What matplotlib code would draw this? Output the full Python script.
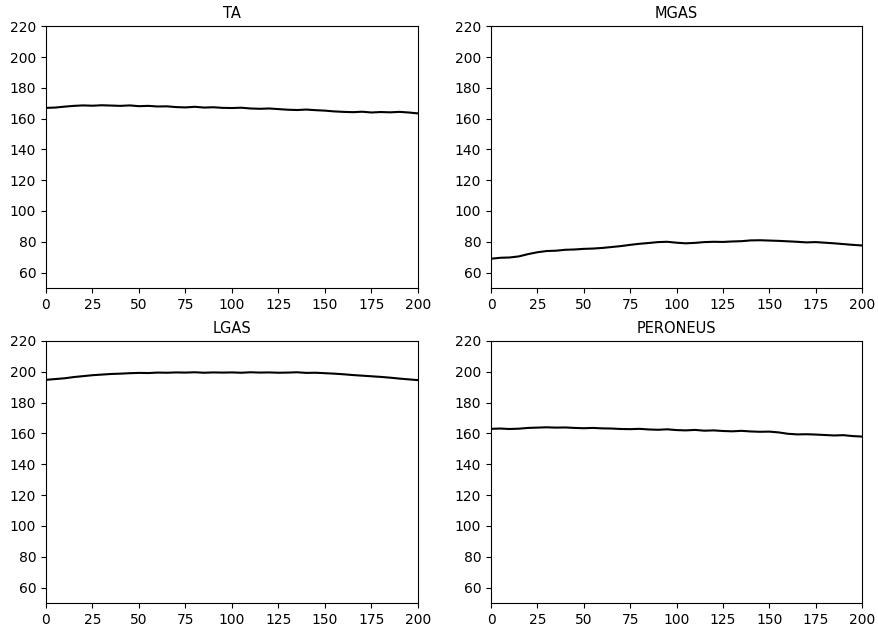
import matplotlib
matplotlib.use("Agg")
import matplotlib.pyplot as plt

# sample index (every 5 samples) and traces
x = list(range(0, 201, 5))

ta = [167.0, 167.2, 167.8, 168.3, 168.6, 168.4, 168.7, 168.5, 168.3, 168.6,
      168.1, 168.3, 167.9, 168.0, 167.5, 167.3, 167.7, 167.2, 167.4, 167.0,
      166.9, 167.1, 166.6, 166.4, 166.6, 166.2, 165.8, 165.6, 165.9, 165.5,
      165.2, 164.7, 164.4, 164.2, 164.5, 164.0, 164.3, 164.1, 164.4, 164.0,
      163.4]
mgas = [69.0, 69.6, 69.8, 70.5, 72.0, 73.2, 74.0, 74.2, 74.8, 75.0,
        75.4, 75.6, 76.0, 76.6, 77.2, 78.0, 78.7, 79.2, 79.8, 80.0,
        79.4, 79.0, 79.3, 79.8, 80.0, 79.9, 80.2, 80.4, 80.9, 81.0,
        80.8, 80.6, 80.3, 80.0, 79.6, 79.8, 79.4, 79.0, 78.5, 78.0,
        77.6]
lgas = [194.8, 195.3, 195.8, 196.6, 197.2, 197.8, 198.2, 198.6, 198.8, 199.1,
        199.3, 199.2, 199.5, 199.4, 199.6, 199.5, 199.7, 199.4, 199.6, 199.5,
        199.6, 199.4, 199.7, 199.5, 199.6, 199.4, 199.5, 199.7, 199.3, 199.4,
        199.1, 198.8, 198.4, 197.9, 197.5, 197.1, 196.7, 196.2, 195.6, 195.1,
        194.6]
peroneus = [163.0, 163.2, 162.9, 163.1, 163.6, 163.8, 164.0, 163.8, 163.9, 163.6,
            163.4, 163.6, 163.3, 163.2, 162.9, 162.8, 163.0, 162.6, 162.4, 162.7,
            162.2, 162.0, 162.3, 161.8, 162.0, 161.6, 161.4, 161.7, 161.3, 161.1,
            161.2, 160.7, 159.8, 159.4, 159.5, 159.3, 159.0, 158.7, 158.9, 158.3,
            158.0]

titles = ["TA", "MGAS", "LGAS", "PERONEUS"]
series = [ta, mgas, lgas, peroneus]

fig = plt.figure(figsize=(8.79, 6.26), dpi=100)
boxes = [
    (0.0523, 0.540, 0.4232, 0.418),
    (0.5586, 0.540, 0.4221, 0.418),
    (0.0523, 0.0367, 0.4232, 0.4186),
    (0.5586, 0.0367, 0.4221, 0.4186),
]
for box, title, y in zip(boxes, titles, series):
    ax = fig.add_axes(box)
    ax.plot(x, y, color="black", lw=1.5)
    ax.set_xlim(0, 200)
    ax.set_ylim(50, 220)
    ax.set_xticks(range(0, 201, 25))
    ax.set_yticks(range(60, 221, 20))
    ax.tick_params(labelsize=10)
    ax.set_title(title, fontsize=10.5)

fig.savefig("out.png", dpi=100)
